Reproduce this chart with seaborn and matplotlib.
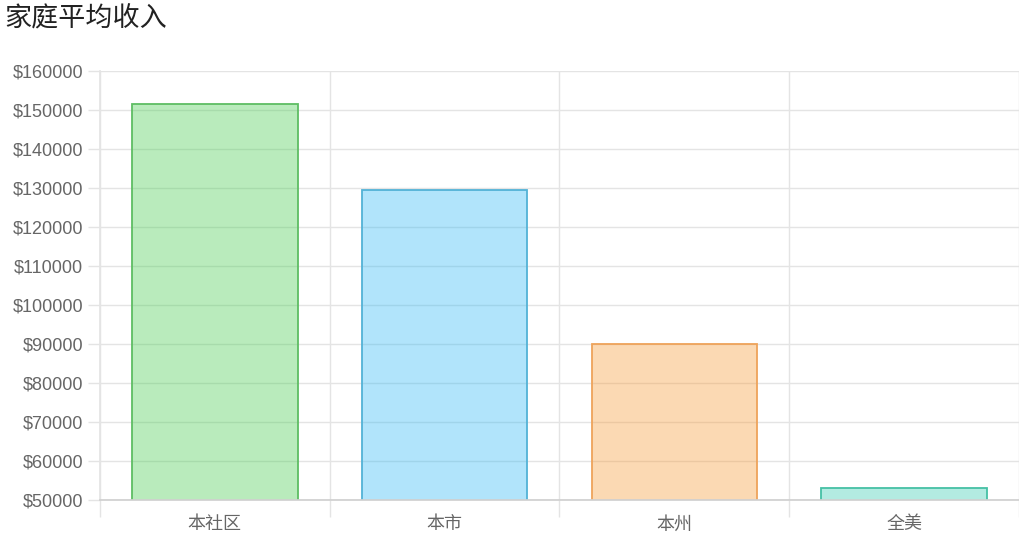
import matplotlib
matplotlib.use('Agg')
import matplotlib.pyplot as plt
import seaborn as sns
import pandas as pd
from matplotlib.ticker import FuncFormatter, MultipleLocator, FixedLocator

# 数据
categories = ['本社区', '本市', '本州', '全美']
income = [151500, 129500, 90000, 53000]
fill_colors = [(80/255, 207/255, 88/255, 0.4), (60/255, 188/255, 245/255, 0.4),
               (247/255, 160/255, 65/255, 0.4), (67/255, 207/255, 180/255, 0.4)]
edge_colors = ['#5ebd63', '#52b2d6', '#eea35a', '#45c0a5']

sns.set_theme(style='white')
plt.rcParams['font.family'] = ['Liberation Sans', 'Noto Sans CJK SC', 'DejaVu Sans']

df = pd.DataFrame({'area': categories, 'income': income})

fig = plt.figure(figsize=(10.2, 5.45), dpi=100)
ax = fig.add_axes([0.098, 0.083, 0.901, 0.787])

sns.barplot(data=df, x='area', y='income', hue='area', palette=edge_colors,
            legend=False, width=0.72, ax=ax)

for patch, fc, ec in zip(ax.patches, fill_colors, edge_colors):
    patch.set_facecolor(fc)
    patch.set_edgecolor(ec)
    patch.set_linewidth(1.3)

ax.set_ylim(50000, 160000)
ax.set_xlim(-0.5, 3.5)
ax.yaxis.set_major_locator(MultipleLocator(10000))
ax.yaxis.set_major_formatter(FuncFormatter(lambda v, p: '$%d' % v))

# 网格
ax.set_axisbelow(True)
ax.grid(axis='y', color='#e4e4e4', linewidth=1)
ax.xaxis.set_minor_locator(FixedLocator([-0.5, 0.5, 1.5, 2.5, 3.5]))
ax.grid(axis='x', which='minor', color='#e4e4e4', linewidth=1)
ax.tick_params(axis='x', which='minor', length=12, color='#e4e4e4', width=1, bottom=True)
ax.tick_params(axis='x', which='major', length=0, pad=12, labelsize=13, labelcolor='#666666')
ax.tick_params(axis='y', which='major', left=True, length=9, color='#e4e4e4', width=1,
               labelsize=13, labelcolor='#666666', pad=3)

for side in ['top', 'right']:
    ax.spines[side].set_visible(False)
ax.spines['left'].set_color('#e4e4e4')
ax.spines['bottom'].set_color('#d0d0d0')

ax.set_xlabel('')
ax.set_ylabel('')

fig.text(0.004, 0.965, '家庭平均收入', fontsize=19.5, color='#222222', va='center', ha='left')

fig.savefig('out.png', dpi=100)
